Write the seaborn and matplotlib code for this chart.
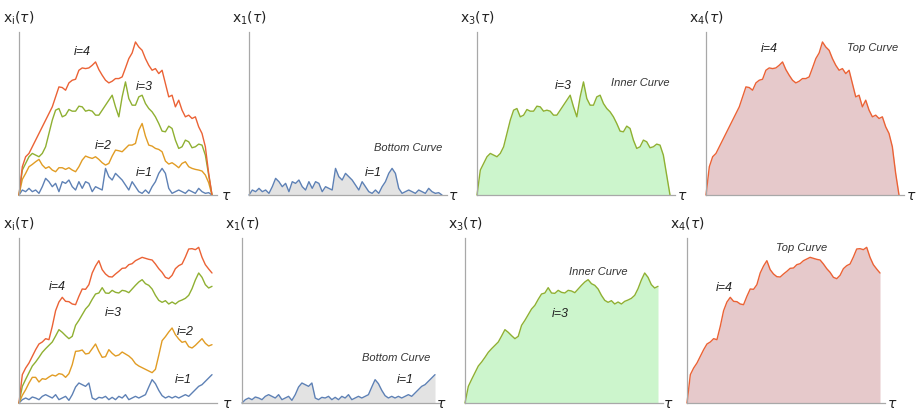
import numpy as np
import pandas as pd
import matplotlib.pyplot as plt
import seaborn as sns

sns.set_theme(style="white")
plt.rcParams["font.family"] = ["Liberation Sans", "DejaVu Sans"]
plt.rcParams["mathtext.fontset"] = "dejavusans"

W, H = 916, 411

# values, 59 samples over tau in [0, 1]
# top row: excursions (all curves return to 0)
top_x1 = [0, 1.5, 1, 2, 1, 1.5, 0.5, 2.5, 5, 4, 2.5, 3.5, 1, 4, 3.5, 4.5, 2.5, 1.5, 4, 2,
          4, 3.5, 1, 2.5, 2, 1.5, 8, 5.5, 4.5, 6.5, 5.5, 4.5, 3, 1.5, 4, 2.5, 1, 0.5, 1.5, 0.5,
          2.5, 4, 6.5, 8, 6.5, 2, 0.5, 1, 1.5, 1, 0.5, 1.5, 1, 0.5, 2, 1, 0.5, 0.7, 0]
top_x2 = [0, 4.7, 6.5, 8.5, 9.2, 10, 10.7, 9, 8, 8.5, 7.5, 7, 8.2, 8.2, 7.7, 8.2, 7.5, 7, 8.5, 10.5,
          11.7, 11.3, 11, 11.5, 10.7, 9.7, 9, 9.5, 11.7, 13.5, 13.3, 13, 14, 15, 15, 15.5, 19.5, 21.5, 17.7, 15,
          14.7, 14, 13.7, 13, 10.2, 9.3, 9.7, 9, 8.2, 9.5, 10, 8.5, 8, 7.7, 7.5, 7.2, 6, 3.7, 0]
top_x3 = [0, 7.5, 9.5, 11.5, 12.5, 12, 11.5, 12.5, 14.5, 18.5, 22.5, 25.5, 26, 23.5, 24, 25.7, 25.2, 25.2, 26.7, 26.5,
          25.2, 25.5, 25.2, 24, 24, 25.5, 27, 28.5, 30, 26.5, 23.5, 29.5, 34, 29, 27, 27, 29.5, 30, 27.5, 26,
          25, 23.5, 21.5, 19.2, 19, 20.7, 20, 16.5, 14, 14.5, 16.5, 16, 14.2, 14.5, 15.3, 15, 12, 6, 0]
top_x4 = [0, 8.5, 11.5, 12.5, 14.5, 16.5, 18.5, 20.5, 22.5, 24.5, 26.5, 29.5, 32.5, 32.3, 31.5, 33.7, 34.5, 34.8, 37.5, 38.2,
          38, 38.2, 39, 40, 37.7, 36, 34.5, 33.7, 34.2, 35, 35, 35.5, 38.2, 41, 42.7, 46, 44.5, 43.5, 41, 39,
          37.5, 38, 36.5, 37.5, 33.5, 29.5, 30, 26.5, 28.5, 25.5, 23.5, 24, 23, 23.5, 20.5, 18.5, 14.5, 6.5, 0]

# bottom row: meanders (free end)
bot_x1 = [0, 1, 1.5, 1, 1.8, 1.5, 1, 2, 2.5, 2, 1.5, 2.5, 1, 1.5, 2, 0.8, 2.5, 4.8, 6, 5.5,
          5, 6, 1.5, 1, 1.7, 1.5, 2, 1, 1.7, 1, 2, 1.5, 2.5, 1, 1.5, 2, 1.5, 2, 2.5, 4.8,
          7, 5.8, 3.8, 2.2, 1.5, 2, 1.5, 2, 1.5, 2, 2.5, 2, 3, 4, 5, 5.5, 6.5, 7.5, 8.5]
bot_x2 = [0, 2.3, 4, 6, 7.7, 7.7, 6.3, 7.3, 7.1, 7.8, 8.4, 8.1, 8.8, 8.6, 7.7, 8.8, 11.5, 15.5, 15.6, 15.9,
          14.7, 14.9, 16.3, 17.7, 15.5, 13.7, 13.9, 16, 14.9, 14.1, 14.4, 15.3, 14.7, 14.1, 13.2, 11.8, 11.1, 10.6, 10.1, 9.6,
          9.1, 10.1, 14.3, 18.7, 19.9, 21.3, 22.5, 20.5, 19.2, 18.2, 18.5, 16.9, 16.5, 17.3, 18.3, 19.3, 17.9, 17.1, 17.5]
bot_x3 = [0, 5, 7.1, 9.1, 11.1, 12.3, 13.7, 15.2, 16.3, 17.3, 18.3, 20.1, 22, 21.2, 20.2, 19.3, 20, 23.3, 24.8, 26.5,
          28.2, 29.3, 31.1, 32.7, 33, 34.6, 33, 32.9, 33.8, 33.2, 33, 33.8, 33.6, 33.1, 34.2, 35.3, 36.3, 37, 35.8, 35.3,
          34.2, 32.3, 30.8, 30.2, 30.7, 29.7, 30.3, 29.7, 30.5, 30.9, 31.4, 32.3, 34.3, 36.9, 39, 37.7, 35.5, 34.5, 35]
bot_x4 = [0, 8.5, 10.5, 12, 14, 16, 17.7, 18.3, 19.3, 19, 23, 27.7, 30.3, 31.7, 30.5, 30.4, 29.7, 29.5, 32, 34.2,
          34.1, 35.5, 39, 41.1, 42.7, 40, 38.7, 37.9, 37.8, 38.7, 39.5, 40.4, 40.5, 41.5, 41.8, 42.7, 43.2, 43.7, 43.4, 43.1,
          42.9, 41.7, 40.3, 39.2, 37.7, 37.3, 38.3, 40.3, 41.2, 41.7, 43.8, 46.2, 46.3, 46, 46.7, 43.7, 41.5, 40.2, 39]

tau = np.linspace(0, 1, 59)

colors = {1: "#5e81b5", 2: "#e19c24", 3: "#8fb032", 4: "#eb6235"}
fills = {1: "#e3e3e3", 3: "#ccf5cc", 4: "#e6c9cb"}
names = {1: "Bottom Curve", 3: "Inner Curve", 4: "Top Curve"}


def make_df(curves):
    parts = [pd.DataFrame({"tau": tau, "x": v, "i": i}) for i, v in curves.items()]
    return pd.concat(parts, ignore_index=True)


rows = [
    dict(df=make_df({1: top_x1, 2: top_x2, 3: top_x3, 4: top_x4}),
         base=195, top=32, ymax=49.0,
         lefts=[19, 249, 477, 706], tau_x=[226, 453, 682, 911],
         ilabels=[[(4, 82, 52), (3, 144, 87), (2, 103, 146), (1, 144, 173)],
                  [(1, 373, 173)], [(3, 563, 86)], [(4, 769, 49)]],
         nlabels=[None, (408, 148), (640, 83), (873, 48)]),
    dict(df=make_df({1: bot_x1, 2: bot_x2, 3: bot_x3, 4: bot_x4}),
         base=403, top=238, ymax=49.5,
         lefts=[19, 242, 465, 687], tau_x=[227, 441, 668, 892],
         ilabels=[[(4, 57, 287), (3, 113, 313), (2, 185, 332), (1, 183, 380)],
                  [(1, 405, 380)], [(3, 560, 314)], [(4, 724, 288)]],
         nlabels=[None, (396, 358), (598, 272), (802, 248)]),
]

panel_curves = [None, 1, 3, 4]
scale = 193  # px per unit tau
pad = 0.025

fig = plt.figure(figsize=(W / 100, H / 100), dpi=100)


def ftext(x, y, s, **kw):
    fig.text(x / W, 1 - y / H, s, ha="center", va="center", **kw)


for row in rows:
    df = row["df"]
    for k in range(4):
        left = row["lefts"][k]
        ax = fig.add_axes([left / W, 1 - row["base"] / H,
                           scale * (1 + pad) / W, (row["base"] - row["top"]) / H])
        ax.set_xlim(0, 1 + pad)
        ax.set_ylim(0, row["ymax"])
        ax.patch.set_alpha(0)

        which = panel_curves[k]
        if which is None:
            sns.lineplot(data=df, x="tau", y="x", hue="i", palette=colors,
                         legend=False, lw=1.0, ax=ax, clip_on=False)
            lab = r"$\mathrm{x}_\mathrm{i}(\tau)$"
        else:
            sub = df[df["i"] == which]
            ax.fill_between(sub["tau"], 0, sub["x"], color=fills[which], lw=0)
            sns.lineplot(data=sub, x="tau", y="x", color=colors[which],
                         lw=1.0, ax=ax, clip_on=False)
            lab = r"$\mathrm{x}_{%d}(\tau)$" % which

        ax.set_xlabel("")
        ax.set_ylabel("")
        ax.set_xticks([])
        ax.set_yticks([])
        for s in ["top", "right"]:
            ax.spines[s].set_visible(False)
        for s in ["left", "bottom"]:
            ax.spines[s].set_color("#a8a8a8")
            ax.spines[s].set_linewidth(0.9)

        ftext(left, row["top"] - 14, lab, fontsize=10, color="#222222")
        ftext(row["tau_x"][k], row["base"] + 1, r"$\tau$", fontsize=10, color="#222222")

        for i, x, y in row["ilabels"][k]:
            ftext(x, y, "i=%d" % i, fontsize=9, style="italic", color="#222222")
        if row["nlabels"][k] is not None:
            x, y = row["nlabels"][k]
            ftext(x, y, names[which], fontsize=8, style="italic", color="#333333")

fig.savefig("out.png", dpi=100)
